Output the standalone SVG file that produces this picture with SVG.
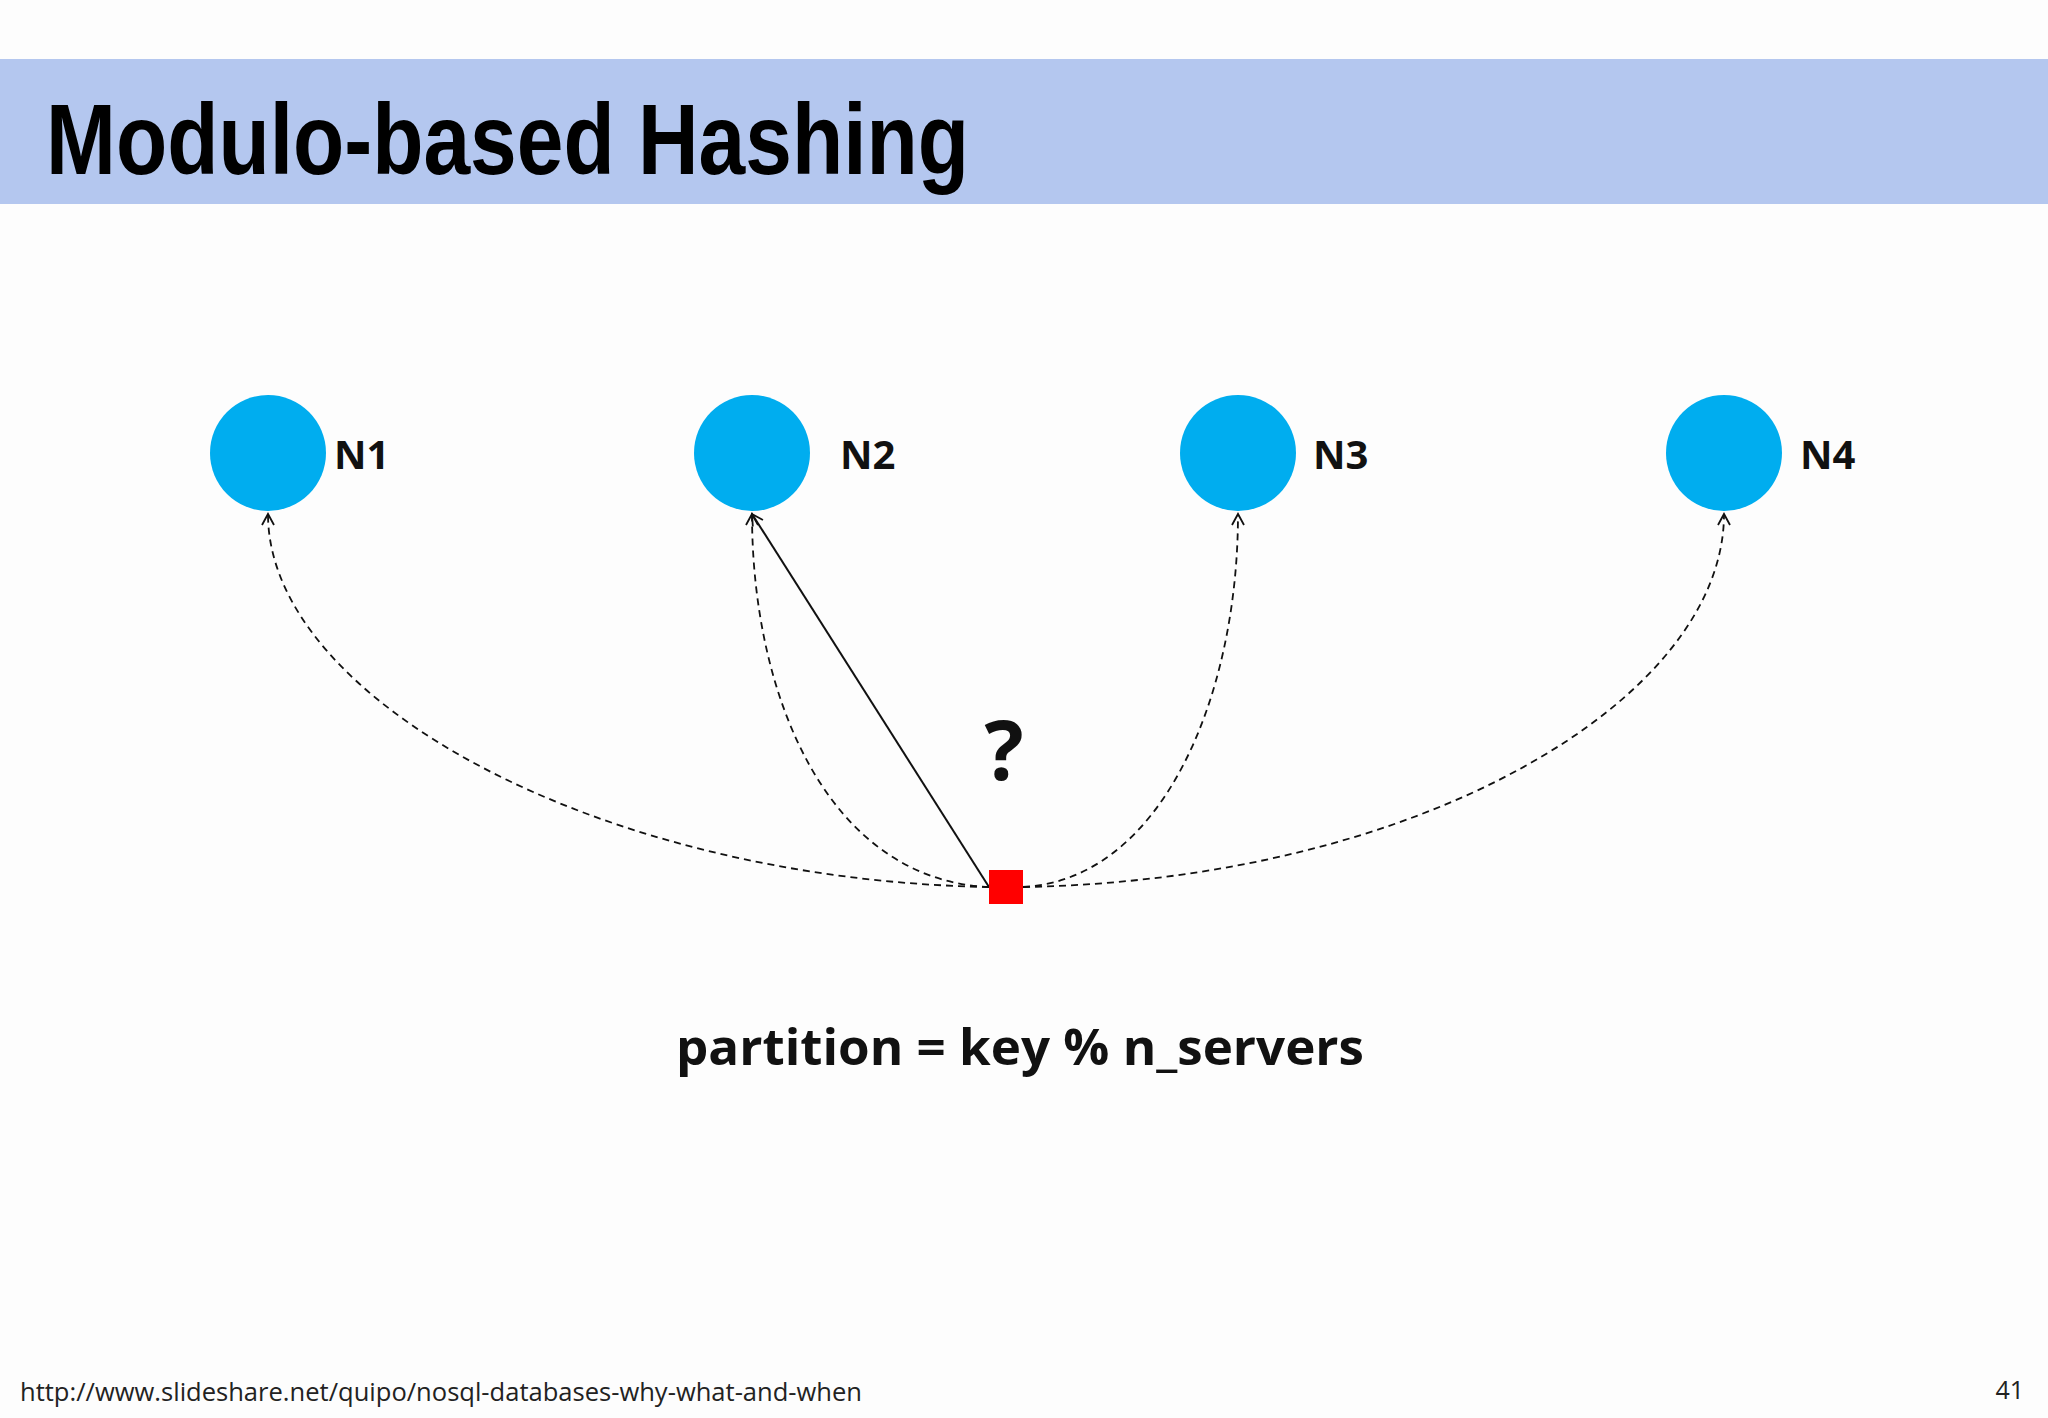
<svg xmlns="http://www.w3.org/2000/svg" width="2048" height="1418" viewBox="0 0 2048 1418">
<style>
.node{fill:#00adef}
.lbl{font-family:"Open Sans","Noto Sans",sans-serif;font-weight:bold;font-size:40px;fill:#111}
.dash{fill:none;stroke:#111;stroke-width:1.8;stroke-dasharray:7 5}
</style>
<defs>
<marker id="ah" markerWidth="14" markerHeight="14" refX="12" refY="7" orient="auto" markerUnits="userSpaceOnUse">
<path d="M1,1 L12,7 L1,13" fill="none" stroke="#111" stroke-width="1.8"/>
</marker>
</defs>
<rect width="2048" height="1418" fill="#fdfdfd"/>
<rect x="0" y="59" width="2048" height="145" fill="#b4c7ef"/>
<text x="46" y="174" font-family="Liberation Sans Narrow,Liberation Sans,sans-serif" font-weight="bold" font-size="100" textLength="923" lengthAdjust="spacingAndGlyphs" fill="#000">Modulo-based Hashing</text>
<g id="connectors">
<path class="dash" d="M989,887 C600,880 268,700 268,514" marker-end="url(#ah)"/>
<path class="dash" d="M989,887 C830,880 752,700 752,514" marker-end="url(#ah)"/>
<path class="dash" d="M1023,887 C1160,880 1238,700 1238,514" marker-end="url(#ah)"/>
<path class="dash" d="M1023,887 C1420,880 1724,700 1724,514" marker-end="url(#ah)"/>
<path d="M989,887 L752,514" fill="none" stroke="#111" stroke-width="2" marker-end="url(#ah)"/>
</g>
<g id="n1"><circle class="node" cx="268" cy="453" r="58"/><text class="lbl" x="334" y="469">N1</text></g>
<g id="n2"><circle class="node" cx="752" cy="453" r="58"/><text class="lbl" x="840" y="469">N2</text></g>
<g id="n3"><circle class="node" cx="1238" cy="453" r="58"/><text class="lbl" x="1313" y="469">N3</text></g>
<g id="n4"><circle class="node" cx="1724" cy="453" r="58"/><text class="lbl" x="1800" y="469">N4</text></g>
<g id="key"><rect x="989" y="870" width="34" height="34" fill="#ff0000"/></g>
<text x="1004" y="780" text-anchor="middle" font-family="Open Sans,sans-serif" font-weight="bold" font-size="82" fill="#111">?</text>
<text x="1020" y="1065" text-anchor="middle" font-family="Open Sans,sans-serif" font-weight="bold" font-size="50" textLength="688" lengthAdjust="spacingAndGlyphs" fill="#111">partition = key % n_servers</text>
<text x="20" y="1401" font-family="Open Sans,sans-serif" font-size="25" textLength="842" lengthAdjust="spacingAndGlyphs" fill="#222">http://www.slideshare.net/quipo/nosql-databases-why-what-and-when</text>
<text x="2024" y="1399" text-anchor="end" font-family="Open Sans,sans-serif" font-size="25" fill="#222">41</text>
</svg>
